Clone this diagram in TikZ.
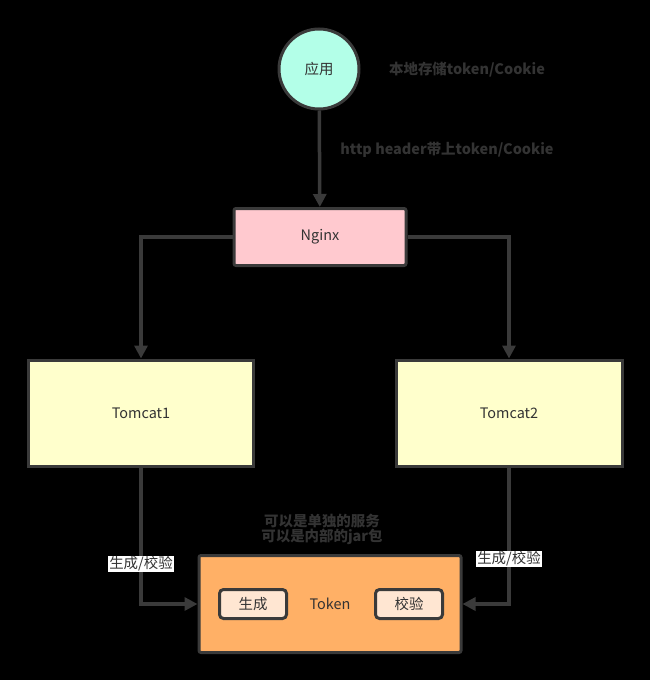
\documentclass[tikz,border=0pt]{standalone}
\usepackage{fontspec}
\setmainfont{Noto Sans CJK SC}
\usetikzlibrary{arrows.meta}
\definecolor{edge}{HTML}{3A3A3A}
\definecolor{txt}{HTML}{333333}
\definecolor{mint}{HTML}{B3FFE8}
\definecolor{pinkf}{HTML}{FFC9CF}
\definecolor{yel}{HTML}{FFFFCC}
\definecolor{orng}{HTML}{FFB066}
\definecolor{peach}{HTML}{FFE6D2}
\tikzset{
  box/.style={draw=edge, line width=3bp, rounded corners=2bp, inner sep=0pt, text=txt, font=\fontsize{14.5}{17}\selectfont},
  conn/.style={draw=edge, line width=3.5bp, -{Triangle[length=13bp,width=13bp]}},
  note/.style={text=txt, font=\bfseries\fontsize{14.5}{15}\selectfont, align=center},
  tag/.style={fill=white, text=txt, inner sep=1bp, font=\fontsize{14.5}{17}\selectfont},
}
\begin{document}
\begin{tikzpicture}[x=1bp,y=-1bp]
\fill[black] (0,0) rectangle (650,680);
\useasboundingbox (0,0) rectangle (650,680);
\node[box, circle, fill=mint, minimum size=80bp] (app) at (319,69) {应用};
\node[note] (store) at (467,70) {本地存储token/Cookie};
\node[box, fill=pinkf, minimum width=172bp, minimum height=57bp] (nginx) at (320,237) {Nginx};
\node[note] (hdr) at (447,150) {http header带上token/Cookie};
\node[box, fill=yel, rounded corners=0pt, minimum width=225bp, minimum height=106bp] (t1) at (141,413) {Tomcat1};
\node[box, fill=yel, rounded corners=0pt, minimum width=226bp, minimum height=106bp] (t2) at (509,413) {Tomcat2};
\node[box, fill=orng, minimum width=262bp, minimum height=97bp] (tok) at (330,604) {Token};
\node[box, fill=peach, minimum width=67bp, minimum height=29bp, rounded corners=4bp] (gen) at (253,604) {生成};
\node[box, fill=peach, minimum width=67bp, minimum height=29bp, rounded corners=4bp] (chk) at (409,604) {校验};
\node[note] (desc) at (322,529) {可以是单独的服务\\可以是内部的jar包};
\coordinate (l1) at (141,237);
\coordinate (r1) at (509,237);
\coordinate (l2) at (141,604);
\coordinate (r2) at (509,604);
\draw[conn] (app) -- (nginx);
\draw[conn] (nginx.west) -- (l1) -- (t1.north);
\draw[conn] (nginx.east) -- (r1) -- (t2.north);
\draw[conn] (t1.south) -- (l2) -- (tok.west);
\draw[conn] (t2.south) -- (r2) -- (tok.east);
\node[tag] (lab1) at (141,564) {生成/校验};
\node[tag] (lab2) at (509,559) {生成/校验};
\end{tikzpicture}
\end{document}
